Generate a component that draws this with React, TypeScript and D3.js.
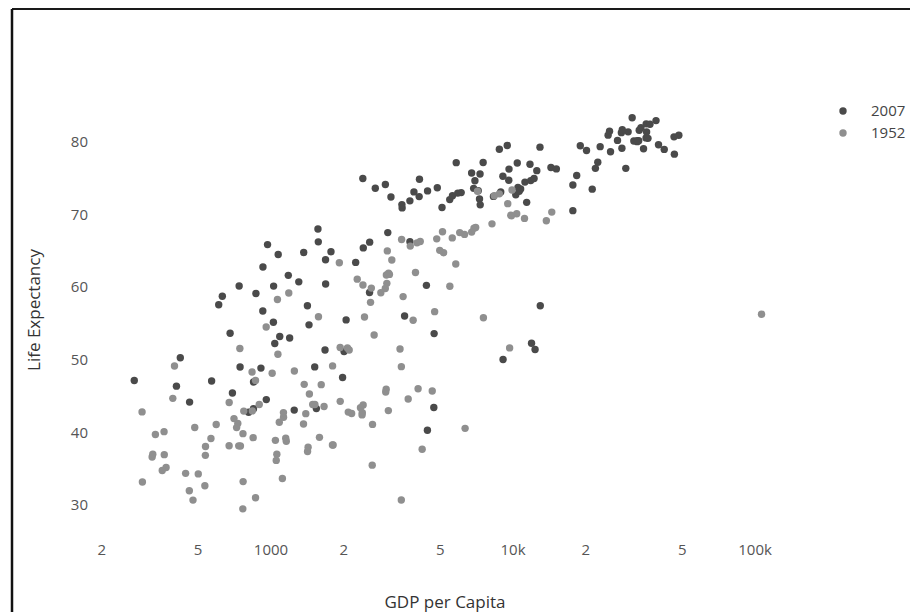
import React from "react";
import * as d3 from "d3";

const countries = ["Afghanistan","Albania","Algeria","Angola","Argentina","Australia","Austria","Bahrain","Bangladesh","Belgium","Benin","Bolivia","Bosnia and Herzegovina","Botswana","Brazil","Bulgaria","Burkina Faso","Burundi","Cambodia","Cameroon","Canada","Central African Republic","Chad","Chile","China","Colombia","Comoros","Congo, Dem. Rep.","Congo, Rep.","Costa Rica","Cote d'Ivoire","Croatia","Cuba","Czech Republic","Denmark","Djibouti","Dominican Republic","Ecuador","Egypt","El Salvador","Equatorial Guinea","Eritrea","Ethiopia","Finland","France","Gabon","Gambia","Germany","Ghana","Greece","Guatemala","Guinea","Guinea-Bissau","Haiti","Honduras","Hong Kong","Hungary","Iceland","India","Indonesia","Iran","Iraq","Ireland","Israel","Italy","Jamaica","Japan","Jordan","Kenya","Korea, Dem. Rep.","Korea, Rep.","Kuwait","Lebanon","Lesotho","Liberia","Libya","Madagascar","Malawi","Malaysia","Mali","Mauritania","Mauritius","Mexico","Mongolia","Montenegro","Morocco","Mozambique","Myanmar","Namibia","Nepal","Netherlands","New Zealand","Nicaragua","Niger","Nigeria","Norway","Oman","Pakistan","Panama","Paraguay","Peru","Philippines","Poland","Portugal","Puerto Rico","Reunion","Romania","Rwanda","Sao Tome and Principe","Saudi Arabia","Senegal","Serbia","Sierra Leone","Singapore","Slovak Republic","Slovenia","Somalia","South Africa","Spain","Sri Lanka","Sudan","Swaziland","Sweden","Switzerland","Syria","Taiwan","Tanzania","Thailand","Togo","Trinidad and Tobago","Tunisia","Turkey","Uganda","United Kingdom","United States","Uruguay","Venezuela","Vietnam","West Bank and Gaza","Yemen, Rep.","Zambia","Zimbabwe"];

const gdp2007 = [974.58,5937.03,6223.37,4797.23,12779.38,34435.37,36126.49,29796.05,1391.25,33692.61,1441.28,3822.14,7446.30,12569.85,9065.80,10680.79,1217.03,430.07,1713.78,2042.10,36319.24,706.02,1704.06,13171.64,4959.11,7006.58,986.15,277.55,3632.56,9645.06,1544.75,14619.22,8948.10,22833.31,35278.42,2082.48,6025.37,6873.26,5581.18,5728.35,12154.09,641.37,690.81,33207.08,30470.02,13206.48,752.75,32170.37,1327.61,27538.41,5186.05,942.65,579.23,1201.64,3548.33,39724.98,18008.94,36180.79,2452.21,3540.65,11605.71,4471.06,40676.00,25523.28,28569.72,7320.88,31656.07,4519.46,1463.25,1593.07,23348.14,47306.99,10461.06,1569.33,414.51,12057.50,1044.77,759.35,12451.66,1042.58,1803.15,10956.99,11977.57,3095.77,9253.90,3820.18,823.69,944.00,4811.06,1091.36,36797.93,25185.01,2749.32,619.68,2013.98,49357.19,22316.19,2605.95,9809.19,4172.84,7408.91,3190.48,15389.92,20509.65,19328.71,7670.12,10808.48,863.09,1598.44,21654.83,1712.47,9786.53,862.54,47143.18,18678.31,25768.26,926.14,9269.66,28821.06,3970.10,2602.39,4513.48,33859.75,37506.42,4184.55,28718.28,1107.48,7458.40,882.97,18008.51,7092.92,8458.28,1056.38,33203.26,42951.65,10611.46,11415.81,2441.58,3025.35,2280.77,1271.21,469.71];

const life2007 = [43.828,76.423,72.301,42.731,75.32,81.235,79.829,75.635,64.062,79.441,56.728,65.554,74.852,50.728,72.39,73.005,52.295,49.58,59.723,50.43,80.653,44.741,50.651,78.553,72.961,72.889,65.152,46.462,55.322,78.782,48.328,75.748,78.273,76.486,78.332,54.791,72.235,74.994,71.338,71.878,51.579,58.04,52.947,79.313,80.657,56.735,59.448,79.406,60.022,79.483,70.259,56.007,46.388,60.916,70.198,82.208,73.338,81.757,64.698,70.65,70.964,59.545,78.885,80.745,80.546,72.567,82.603,72.535,54.11,67.297,78.623,77.588,71.993,42.592,45.678,73.952,59.443,48.303,74.241,54.467,64.164,72.801,76.195,66.803,74.543,71.164,42.082,62.069,52.906,63.785,79.762,80.204,72.899,56.867,46.859,80.196,75.64,65.483,75.537,71.752,71.421,71.688,75.563,78.098,78.746,76.442,72.476,46.242,65.528,72.777,63.062,74.002,42.568,79.972,74.663,77.926,48.159,49.339,80.941,72.396,58.556,39.613,80.884,81.701,74.143,78.4,52.517,70.616,58.42,69.819,73.923,71.777,51.542,79.425,78.242,76.384,73.747,74.249,73.422,62.698,42.384,43.487];

const gdp1952 = [779.45,1601.06,2449.01,3520.61,5911.32,10039.60,6137.08,9867.08,684.24,8343.11,1062.75,2677.33,973.53,851.24,2108.94,2444.29,543.26,339.30,368.47,1172.67,11367.16,1071.31,1178.67,3939.98,400.45,2144.12,1102.99,780.54,2125.62,2627.01,1388.59,3119.24,5586.54,6876.14,9692.39,2669.53,1397.72,3522.11,1418.82,3048.30,375.64,328.94,362.15,6424.52,7029.81,4293.48,485.23,7144.11,911.30,3530.69,2428.24,510.20,299.85,1840.37,2194.93,3054.42,5263.67,7267.69,546.57,749.68,3035.33,4129.77,5210.28,4086.52,4931.40,2898.53,3216.96,1546.91,853.54,1088.28,1030.59,108382.35,4834.80,298.85,575.57,2387.55,1443.01,369.17,1831.13,452.34,743.12,1967.96,3478.13,786.57,2647.59,1688.20,468.53,331.00,2423.78,545.87,8941.57,10556.58,3112.36,761.88,1077.28,10095.42,1828.23,684.60,2480.38,1952.31,3758.52,1272.88,4029.33,3068.32,3081.96,2718.89,3144.61,493.32,879.58,6459.55,1450.36,3581.46,879.79,2315.14,5074.66,4215.04,1135.75,4725.30,3834.03,1083.53,1615.99,1148.38,8527.84,14734.23,1643.49,1206.95,716.65,757.80,859.81,3023.27,1468.48,1969.10,734.75,9979.51,13990.48,5716.77,7689.80,605.07,1515.59,781.72,1147.39,406.88];

const life1952 = [28.801,55.23,43.077,30.015,62.485,69.12,66.8,50.939,37.484,68.0,38.223,40.414,53.82,47.622,50.917,59.6,31.975,39.031,39.417,38.523,68.75,35.463,38.092,54.745,44.0,50.643,40.715,39.143,42.111,57.206,40.477,61.21,59.421,66.87,70.78,34.812,45.928,48.357,41.893,45.262,34.482,35.928,34.078,66.55,67.41,37.003,30.0,67.5,43.149,65.86,42.023,33.609,32.5,37.579,41.912,60.96,64.03,72.49,37.373,37.468,44.869,45.32,66.91,65.39,65.94,58.53,63.03,43.158,42.27,50.056,47.453,55.565,55.928,42.138,38.48,42.723,36.681,36.256,48.463,33.685,40.543,50.986,50.789,42.244,59.164,42.873,31.286,36.319,41.725,36.157,72.13,69.39,42.314,37.444,36.324,72.67,37.578,43.436,55.191,62.649,43.902,47.752,61.31,59.82,64.28,52.724,61.05,40.0,46.471,39.875,37.278,57.996,30.331,60.396,64.36,65.57,32.978,45.009,64.94,57.593,38.635,41.407,71.86,69.62,45.883,58.5,41.215,50.848,38.596,59.1,44.6,43.585,39.978,69.18,68.44,66.071,55.088,40.412,43.16,32.548,42.038,48.451];

const seriesNames = ["2007", "1952"];
const xTickValues = [200, 500, 1000, 2000, 5000, 10000, 20000, 50000, 100000];
const xTickLabels = ["2", "5", "1000", "2", "5", "10k", "2", "5", "100k"];
const yTickValues = [30, 40, 50, 60, 70, 80];

const W = 910;
const H = 612;
const COLORS = ["#4a4a4a", "#8f8f8f"];
const FONT = "'Open Sans', 'Noto Sans', sans-serif";

export default function App() {
  const x = d3.scaleLog().domain([165.6, 156300]).range([80, 800]);
  const y = d3.scaleLinear().domain([25.89, 85.04]).range([530, 100]);

  const series = [
    { name: seriesNames[0], gdp: gdp2007, life: life2007, color: COLORS[0] },
    { name: seriesNames[1], gdp: gdp1952, life: life1952, color: COLORS[1] },
  ];

  return (
    <svg
      width={W}
      height={H}
      style={{ position: "absolute", left: 0, top: 0, background: "#fff" }}
      fontFamily={FONT}
    >
      <rect x={0} y={0} width={W} height={H} fill="#fff" />
      {/* scanned page frame */}
      <line x1={12} y1={9} x2={W} y2={9} stroke="#1a1a1a" strokeWidth={2} />
      <line x1={12} y1={9} x2={12} y2={H} stroke="#111" strokeWidth={2.5} />

      {/* points */}
      {series.map((s) => (
        <g key={s.name}>
          {s.gdp.map((g, i) => (
            <circle
              key={countries[i]}
              cx={x(g)}
              cy={y(s.life[i])}
              r={3.7}
              fill={s.color}
            />
          ))}
        </g>
      ))}

      {/* x tick labels */}
      {xTickValues.map((v, i) => (
        <text
          key={"xt" + i}
          x={x(v) + 2}
          y={550}
          dy="0.35em"
          textAnchor="middle"
          fontSize={15}
          fill="#555"
        >
          {xTickLabels[i]}
        </text>
      ))}

      {/* y tick labels */}
      {yTickValues.map((v) => (
        <text
          key={"yt" + v}
          x={88}
          y={y(v) + 5}
          dy="0.35em"
          textAnchor="end"
          fontSize={15}
          fill="#555"
        >
          {v}
        </text>
      ))}

      {/* axis titles */}
      <text x={445} y={602} dy="0.35em" textAnchor="middle" fontSize={17} fill="#333">
        GDP per Capita
      </text>
      <text
        transform={`translate(34,310) rotate(-90)`}
        dy="0.35em"
        textAnchor="middle"
        fontSize={17}
        fill="#333"
      >
        Life Expectancy
      </text>

      {/* legend */}
      {series.map((s, i) => (
        <g key={"lg" + s.name} transform={`translate(843,${111 + i * 22})`}>
          <circle cx={0} cy={0} r={3.7} fill={s.color} />
          <text x={28} y={0} dy="0.35em" fontSize={15} fill="#444">
            {s.name}
          </text>
        </g>
      ))}
    </svg>
  );
}
